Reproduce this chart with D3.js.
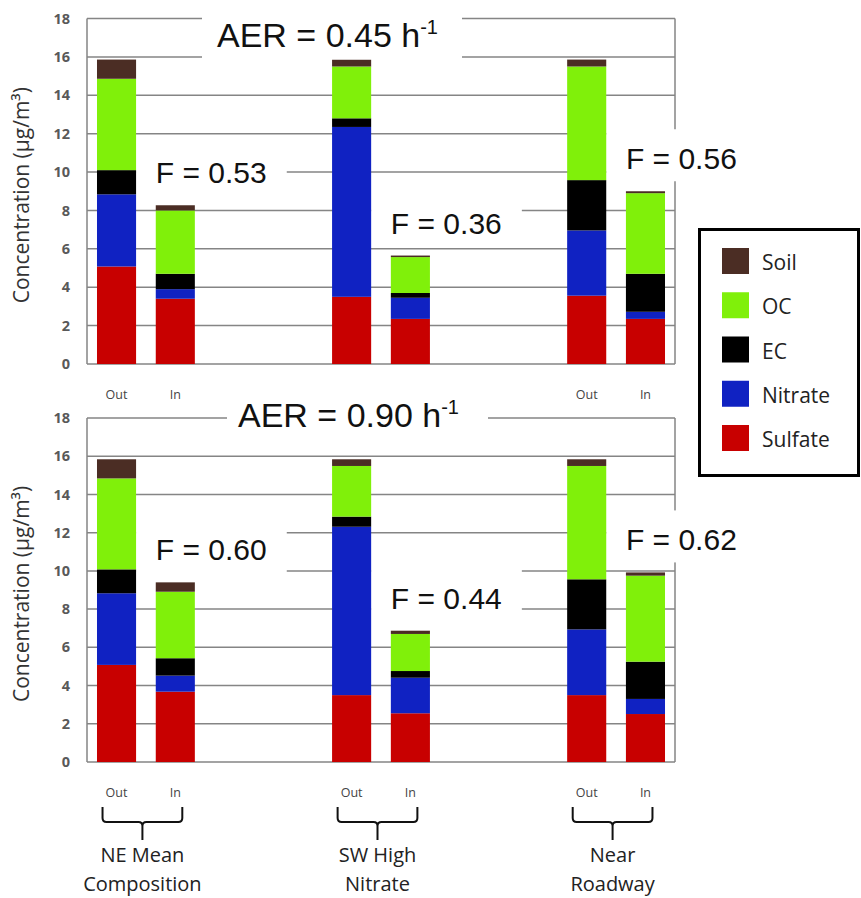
<!DOCTYPE html>
<html>
<head>
<meta charset="utf-8">
<script src="https://cdn.jsdelivr.net/npm/d3@7"></script>
<style>
  html, body { margin: 0; padding: 0; background: #fff; }
  svg { display: block; }
</style>
</head>
<body>
<svg id="chart" width="861" height="898"></svg>
<script>
// Particle composition outdoors vs indoors for three scenarios at two air exchange rates
const groups = ["NE Mean Composition", "SW High Nitrate", "Near Roadway"];
const groupLines = [["NE Mean", "Composition"], ["SW High", "Nitrate"], ["Near", "Roadway"]];
const locations = ["Out", "In"];
const components = ["Sulfate", "Nitrate", "EC", "OC", "Soil"];   // stacked bottom to top
const legendOrder = ["Soil", "OC", "EC", "Nitrate", "Sulfate"];
const yTicks = [0, 2, 4, 6, 8, 10, 12, 14, 16, 18];

// bars in order: NE Out, NE In, SW Out, SW In, NR Out, NR In  (µg/m³)
// AER = 0.45 h-1
const sulfate045 = [5.08, 3.40, 3.50, 2.35, 3.56, 2.35];
const nitrate045 = [3.76, 0.50, 8.85, 1.10, 3.40, 0.37];
const ec045      = [1.26, 0.80, 0.45, 0.25, 2.62, 1.98];
const oc045      = [4.76, 3.30, 2.70, 1.87, 5.92, 4.20];
const soil045    = [1.00, 0.27, 0.35, 0.08, 0.36, 0.10];
const f045       = [0.53, 0.36, 0.56];
// AER = 0.90 h-1
const sulfate090 = [5.08, 3.68, 3.50, 2.55, 3.50, 2.51];
const nitrate090 = [3.75, 0.84, 8.81, 1.86, 3.44, 0.79];
const ec090      = [1.25, 0.91, 0.53, 0.35, 2.62, 1.95];
const oc090      = [4.76, 3.48, 2.65, 1.94, 5.93, 4.50];
const soil090    = [1.00, 0.49, 0.35, 0.17, 0.35, 0.17];
const f090       = [0.60, 0.44, 0.62];

const colors = {
  Soil: "#4b2d24",
  OC: "#80f00a",
  EC: "#000000",
  Nitrate: "#1022c2",
  Sulfate: "#c80000"
};

// the middle group's Out/In under the upper panel sits behind the lower title box
const panels = [
  { aer: "0.45", series: { Sulfate: sulfate045, Nitrate: nitrate045, EC: ec045, OC: oc045, Soil: soil045 },
    f: f045, top: 18.5, bottom: 364, aerX: 217, aerBase: 47, aerBox: [202, 8, 260, 52], labelGroups: [0, 2] },
  { aer: "0.90", series: { Sulfate: sulfate090, Nitrate: nitrate090, EC: ec090, OC: oc090, Soil: soil090 },
    f: f090, top: 418, bottom: 762, aerX: 238, aerBase: 427, aerBox: [227, 384, 261, 55], labelGroups: [0, 1, 2] }
];

const svg = d3.select("#chart");
const plotLeft = 87, plotRight = 675;
const gridColor = "#858585";
const sansCalibri = "'Open Sans', 'Noto Sans', sans-serif";
const sansArial = "'Liberation Sans', Arial, sans-serif";

// 10 slots: Out, In, gap, gap per group (last group without trailing gap)
const slots = d3.range(10);
const x = d3.scaleBand().domain(slots).range([plotLeft, plotRight])
  .paddingInner(0.335).paddingOuter(0.17);
const slotOf = i => Math.floor(i / 2) * 4 + (i % 2);

panels.forEach(p => {
  const y = d3.scaleLinear().domain([0, 18]).range([p.bottom, p.top]);
  const g = svg.append("g");

  // gridlines
  g.append("g").selectAll("line").data(yTicks.filter(t => t > 0)).join("line")
    .attr("x1", plotLeft).attr("x2", plotRight)
    .attr("y1", d => y(d)).attr("y2", d => y(d))
    .attr("stroke", gridColor).attr("stroke-width", 1.5);

  // plot frame: left axis, right edge, baseline
  g.append("line").attr("x1", plotLeft).attr("x2", plotLeft).attr("y1", y(18)).attr("y2", y(0))
    .attr("stroke", gridColor).attr("stroke-width", 1.5);
  g.append("line").attr("x1", plotRight).attr("x2", plotRight).attr("y1", y(18)).attr("y2", y(0))
    .attr("stroke", gridColor).attr("stroke-width", 1.5);
  g.append("line").attr("x1", plotLeft).attr("x2", plotRight).attr("y1", y(0)).attr("y2", y(0))
    .attr("stroke", gridColor).attr("stroke-width", 1.5);

  // y axis tick labels
  const axis = d3.axisLeft(y).tickValues(yTicks).tickSize(0).tickPadding(17);
  const ax = g.append("g").attr("transform", `translate(${plotLeft},0)`).call(axis);
  ax.select(".domain").remove();
  ax.selectAll("text").attr("font-family", sansCalibri).attr("font-size", 14.5)
    .attr("font-weight", 700).attr("fill", "#595959");

  // y axis title
  g.append("text")
    .attr("transform", `translate(29,${(y(0) + y(18)) / 2 + 4}) rotate(-90)`)
    .attr("text-anchor", "middle")
    .attr("font-family", sansCalibri).attr("font-size", 21).attr("fill", "#333")
    .text("Concentration (µg/m³)");

  // white backing boxes behind the annotations
  const [bx, by, bw, bh] = p.aerBox;
  g.append("rect").attr("x", bx).attr("y", by).attr("width", bw).attr("height", bh).attr("fill", "#fff");
  const inBarLeft = gi => x(slotOf(gi * 2 + 1));
  const totals = d3.range(6).map(i => d3.sum(components, c => p.series[c][i]));
  p.f.forEach((fv, gi) => {
    const base = y(totals[gi * 2 + 1]) - 22;
    const left = x(slotOf(gi * 2)) + x.bandwidth();
    g.append("rect").attr("x", left).attr("y", base - 40)
      .attr("width", inBarLeft(gi) + 131 - left).attr("height", 52).attr("fill", "#fff");
  });

  // stacked bars
  const rows = d3.range(6).map(i => {
    const r = { slot: slotOf(i) };
    components.forEach(c => { r[c] = p.series[c][i]; });
    return r;
  });
  const stack = d3.stack().keys(components)(rows);
  g.append("g").selectAll("g").data(stack).join("g")
    .attr("fill", d => colors[d.key])
    .selectAll("rect").data(d => d).join("rect")
    .attr("x", d => x(d.data.slot))
    .attr("width", x.bandwidth())
    .attr("y", d => y(d[1]))
    .attr("height", d => y(d[0]) - y(d[1]));

  // F labels
  p.f.forEach((fv, gi) => {
    g.append("text")
      .attr("x", inBarLeft(gi))
      .attr("y", y(totals[gi * 2 + 1]) - 22)
      .attr("font-family", sansArial).attr("font-size", 30).attr("fill", "#111")
      .text(`F = ${fv.toFixed(2)}`);
  });

  // AER title
  const t = g.append("text").attr("x", p.aerX).attr("y", p.aerBase)
    .attr("font-family", sansArial).attr("font-size", 34).attr("fill", "#111");
  t.append("tspan").text(`AER = ${p.aer} h`);
  t.append("tspan").attr("font-size", 20).attr("dy", -13).text("-1");

  // Out / In category labels
  const shown = d3.range(6).filter(i => p.labelGroups.includes(Math.floor(i / 2)));
  g.append("g").selectAll("text").data(shown).join("text")
    .attr("x", i => x(slotOf(i)) + x.bandwidth() / 2)
    .attr("y", y(0) + 30)
    .attr("text-anchor", "middle").attr("dominant-baseline", "central")
    .attr("font-family", sansCalibri).attr("font-size", 12.5).attr("fill", "#444")
    .text(i => locations[i % 2]);
});

// group braces and names under the lower panel
const braceTop = 807, braceMid = 822, braceTip = 840;
groups.forEach((name, gi) => {
  const l = x(slotOf(gi * 2)) + x.bandwidth() / 2 - 14;
  const r = x(slotOf(gi * 2 + 1)) + x.bandwidth() / 2 + 7;
  const c = (l + r) / 2;
  const path = d3.path();
  path.moveTo(l, braceTop);
  path.lineTo(l, braceMid - 4);
  path.quadraticCurveTo(l, braceMid, l + 4, braceMid);
  path.lineTo(c - 4, braceMid);
  path.quadraticCurveTo(c, braceMid, c, braceMid + 4);
  path.lineTo(c, braceTip);
  path.moveTo(c, braceMid + 4);
  path.quadraticCurveTo(c, braceMid, c + 4, braceMid);
  path.lineTo(r - 4, braceMid);
  path.quadraticCurveTo(r, braceMid, r, braceMid - 4);
  path.lineTo(r, braceTop);
  svg.append("path").attr("d", path.toString())
    .attr("fill", "none").attr("stroke", "#111").attr("stroke-width", 2);

  svg.append("g").selectAll("text").data(groupLines[gi]).join("text")
    .attr("x", c).attr("y", (d, k) => 854 + k * 29)
    .attr("text-anchor", "middle").attr("dominant-baseline", "central")
    .attr("font-family", sansCalibri).attr("font-size", 20).attr("fill", "#222")
    .text(d => d);
});

// legend
const lg = svg.append("g");
lg.append("rect").attr("x", 699.5).attr("y", 229.5).attr("width", 159).attr("height", 246)
  .attr("fill", "#fff").attr("stroke", "#000").attr("stroke-width", 3);
const ly = d3.scalePoint().domain(legendOrder).range([261, 438]);
lg.selectAll("rect.sw").data(legendOrder).join("rect").attr("class", "sw")
  .attr("x", 722).attr("y", d => ly(d) - 13).attr("width", 27).attr("height", 26)
  .attr("fill", d => colors[d]);
lg.selectAll("text").data(legendOrder).join("text")
  .attr("x", 762).attr("y", d => ly(d) + 1)
  .attr("dominant-baseline", "central")
  .attr("font-family", sansCalibri).attr("font-size", 21).attr("fill", "#222")
  .text(d => d);
</script>
</body>
</html>
